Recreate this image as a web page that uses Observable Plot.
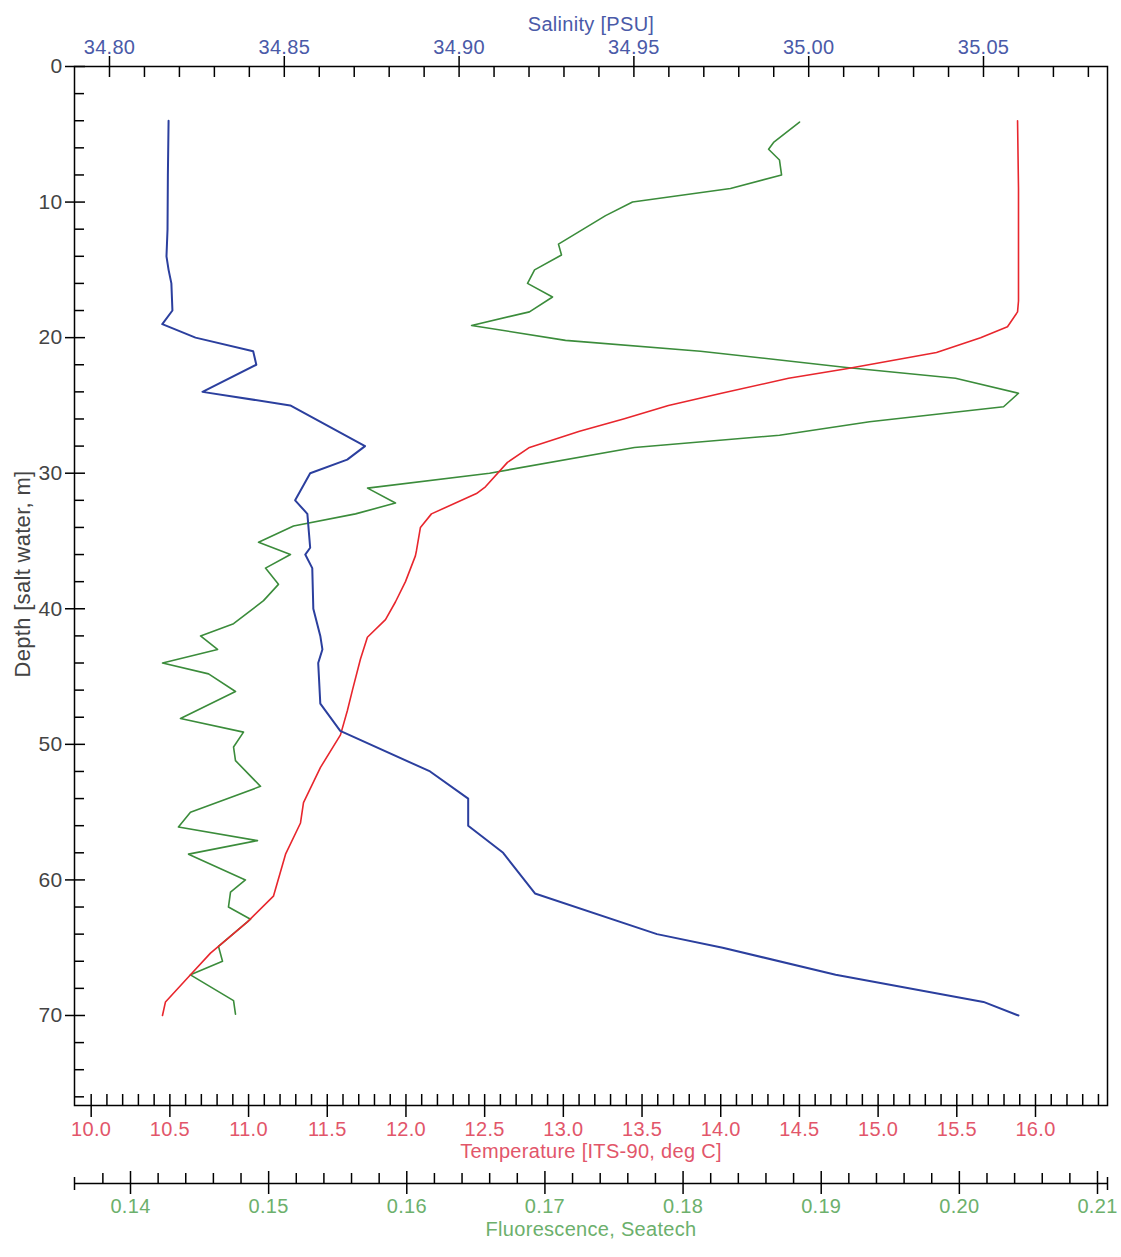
<!DOCTYPE html>
<html><head><meta charset="utf-8">
<script src="https://cdn.jsdelivr.net/npm/d3@7"></script>
<script src="https://cdn.jsdelivr.net/npm/@observablehq/plot@0.6"></script>
<style>body{margin:0;background:#fff} svg text{letter-spacing:0.3px}</style>
</head><body><div id="chart"></div>
<script>
// ---- data ----
const salDepth = [4, 8, 12, 14, 15, 16, 18, 19, 20, 21, 22, 24, 25, 28, 29, 30, 32, 33, 35.5, 36, 37, 40, 42, 43, 44, 47, 49, 52, 54, 56, 58, 61, 64, 65, 67, 69, 70];
const salinity = [34.8169, 34.8167, 34.8166, 34.8163, 34.8169, 34.8177, 34.8180, 34.8151, 34.8246, 34.8411, 34.8420, 34.8266, 34.8517, 34.8731, 34.8680, 34.8574, 34.8531, 34.8566, 34.8574, 34.8560, 34.8580, 34.8583, 34.8603, 34.8609, 34.8597, 34.8603, 34.8660, 34.8917, 34.9026, 34.9026, 34.9126, 34.9217, 34.9566, 34.9754, 35.0077, 35.0500, 35.0600];

const tempDepth = [4, 9, 17.3, 18.1, 19.2, 20, 21.1, 22.3, 23, 24.1, 25, 26, 26.9, 28.1, 29.2, 31, 31.5, 33, 34, 35.7, 36.1, 38, 39.5, 40.8, 42.1, 43.7, 46, 47.5, 49.3, 51.7, 54.3, 55.8, 58.1, 61.2, 63.1, 65.4, 67, 69, 70];
const temperature = [15.886, 15.892, 15.892, 15.886, 15.822, 15.651, 15.371, 14.799, 14.431, 14.005, 13.668, 13.382, 13.103, 12.785, 12.645, 12.505, 12.448, 12.162, 12.092, 12.067, 12.060, 11.997, 11.933, 11.870, 11.755, 11.711, 11.660, 11.628, 11.584, 11.457, 11.349, 11.330, 11.235, 11.158, 10.993, 10.758, 10.631, 10.472, 10.453];

const fluoDepth = [4.1, 5.6, 6.1, 6.9, 8, 9, 10, 11, 13.1, 13.9, 15, 16, 17, 18.1, 19.1, 20.2, 21, 22.2, 23, 24.1, 25.1, 26.2, 27.2, 28.1, 30, 31.1, 32.2, 33, 33.9, 35.1, 36, 37, 38.2, 39.4, 41.1, 42, 43, 44, 44.8, 46.1, 48.1, 49.1, 50.2, 51.2, 53.1, 55, 56.1, 57.1, 58.1, 60, 60.9, 62, 62.9, 64.9, 66, 67, 68.9, 69.9];
const fluorescence = [0.18843, 0.18655, 0.18619, 0.18698, 0.18713, 0.18343, 0.17634, 0.17439, 0.17098, 0.17120, 0.16925, 0.16874, 0.17055, 0.16888, 0.16469, 0.17149, 0.18126, 0.19183, 0.19972, 0.20428, 0.20320, 0.19350, 0.18698, 0.17648, 0.16599, 0.15716, 0.15918, 0.15629, 0.15180, 0.14927, 0.15158, 0.14977, 0.15071, 0.14963, 0.14746, 0.14507, 0.14630, 0.14232, 0.14565, 0.14760, 0.14362, 0.14818, 0.14746, 0.14760, 0.14941, 0.14434, 0.14347, 0.14919, 0.14420, 0.14832, 0.14724, 0.14709, 0.14869, 0.14637, 0.14666, 0.14434, 0.14746, 0.14760];

// ---- tick labels ----
const depthLabels = [0, 10, 20, 30, 40, 50, 60, 70];
const salLabels = ["34.80", "34.85", "34.90", "34.95", "35.00", "35.05"];
const tempLabels = ["10.0", "10.5", "11.0", "11.5", "12.0", "12.5", "13.0", "13.5", "14.0", "14.5", "15.0", "15.5", "16.0"];
const fluoLabels = ["0.14", "0.15", "0.16", "0.17", "0.18", "0.19", "0.20", "0.21"];

// ---- axis extents ----
const tempDomain = [9.894, 16.4575];
const salDomain = [34.78999, 35.08547];
const fluoDomain = [0.135946, 0.210724];
const depthDomain = [0, 76.64];

const W = 1121, H = 1257, mL = 74, mR = 14, mT = 66, mB = 152;
const fH = H - mT - mB, fW = W - mL - mR;

const sal2x = d3.scaleLinear(salDomain, tempDomain);
const fluo2x = d3.scaleLinear(fluoDomain, tempDomain);

const salMinor = d3.range(0, 29).filter(i => i % 5 !== 0).map(i => 34.80 + i * 0.01);
const tempMinor = d3.range(1, 65).filter(i => i % 5 !== 0).map(i => 10 + i * 0.1);
const fluoMinor = d3.range(-1, 36).filter(i => i % 5 !== 0).map(i => 0.14 + i * 0.002);
const depthMinor = d3.range(2, 77, 2).filter(d => d % 10 !== 0);

const salData = salDepth.map((d, i) => ({depth: d, v: salinity[i]}));
const tempData = tempDepth.map((d, i) => ({depth: d, v: temperature[i]}));
const fluoData = fluoDepth.map((d, i) => ({depth: d, v: fluorescence[i]}));

const salColor = "#4a5aa8", tempColor = "#e2566a", fluoColor = "#6cb06c", inkColor = "#444";
const fs = 20;

const chart = Plot.plot({
  width: W, height: H,
  marginLeft: mL, marginRight: mR, marginTop: mT, marginBottom: mB,
  style: {fontFamily: "'Liberation Sans', Arial, sans-serif", fontSize: "20px", background: "white"},
  x: {domain: tempDomain, axis: null},
  y: {domain: depthDomain, reverse: true, axis: null},
  marks: [
    Plot.frame({stroke: "black", strokeWidth: 1.5}),
    // depth axis
    Plot.ruleY(depthLabels, {y: d => d, insetLeft: -9, insetRight: fW - 11, stroke: "black", strokeWidth: 1.5}),
    Plot.ruleY(depthMinor, {y: d => d, insetLeft: 0, insetRight: fW - 10, stroke: "black", strokeWidth: 1.5}),
    Plot.text(depthLabels, {y: d => d, frameAnchor: "left", dx: -12, textAnchor: "end", text: d => String(d), fill: inkColor, fontSize: 21}),
    Plot.text(["Depth [salt water, m]"], {frameAnchor: "left", dx: -52, dy: -12, rotate: -90, textAnchor: "middle", text: d => d, fill: inkColor, fontSize: 22, style: "letter-spacing:1.4px"}),
    // salinity axis (top)
    Plot.ruleX(salLabels, {x: d => sal2x(+d), insetTop: -10, insetBottom: fH - 11, stroke: "black", strokeWidth: 1.5}),
    Plot.ruleX(salMinor, {x: d => sal2x(d), insetTop: 0, insetBottom: fH - 11, stroke: "black", strokeWidth: 1.5}),
    Plot.text(salLabels, {x: d => sal2x(+d), frameAnchor: "top", dy: -27, text: d => d, fill: salColor, fontSize: fs}),
    Plot.text(["Salinity [PSU]"], {frameAnchor: "top", dy: -50, text: d => d, fill: salColor, fontSize: fs}),
    // temperature axis (bottom)
    Plot.ruleX(tempLabels, {x: d => +d, insetTop: fH - 11, insetBottom: -12, stroke: "black", strokeWidth: 1.5}),
    Plot.ruleX(tempMinor, {x: d => d, insetTop: fH - 11, insetBottom: 0, stroke: "black", strokeWidth: 1.5}),
    Plot.text(tempLabels, {x: d => +d, frameAnchor: "bottom", dy: 30, text: d => d, fill: tempColor, fontSize: fs}),
    Plot.text(["Temperature [ITS-90, deg C]"], {frameAnchor: "bottom", dy: 52, text: d => d, fill: tempColor, fontSize: fs}),
    // fluorescence axis (second bottom)
    Plot.ruleY([depthDomain[1]], {dy: 78, stroke: "black", strokeWidth: 1.5}),
    Plot.ruleX(fluoDomain, {x: d => fluo2x(d), insetTop: fH - 6, insetBottom: -7, dy: 78, stroke: "black", strokeWidth: 1.5}),
    Plot.ruleX(fluoLabels, {x: d => fluo2x(+d), insetTop: fH - 12, insetBottom: -11, dy: 78, stroke: "black", strokeWidth: 1.5}),
    Plot.ruleX(fluoMinor, {x: d => fluo2x(d), insetTop: fH - 10, insetBottom: 0, dy: 78, stroke: "black", strokeWidth: 1.5}),
    Plot.text(fluoLabels, {x: d => fluo2x(+d), frameAnchor: "bottom", dy: 107, text: d => d, fill: fluoColor, fontSize: fs}),
    Plot.text(["Fluorescence, Seatech"], {frameAnchor: "bottom", dy: 130, text: d => d, fill: fluoColor, fontSize: fs}),
    // profiles
    Plot.line(fluoData, {x: d => fluo2x(d.v), y: "depth", stroke: "#3b8c3b", strokeWidth: 1.6, curve: "linear"}),
    Plot.line(tempData, {x: "v", y: "depth", stroke: "#e8262d", strokeWidth: 1.6, curve: "linear"}),
    Plot.line(salData, {x: d => sal2x(d.v), y: "depth", stroke: "#2b3f9e", strokeWidth: 2, curve: "linear"})
  ]
});
document.getElementById("chart").appendChild(chart);
</script>
</body></html>
